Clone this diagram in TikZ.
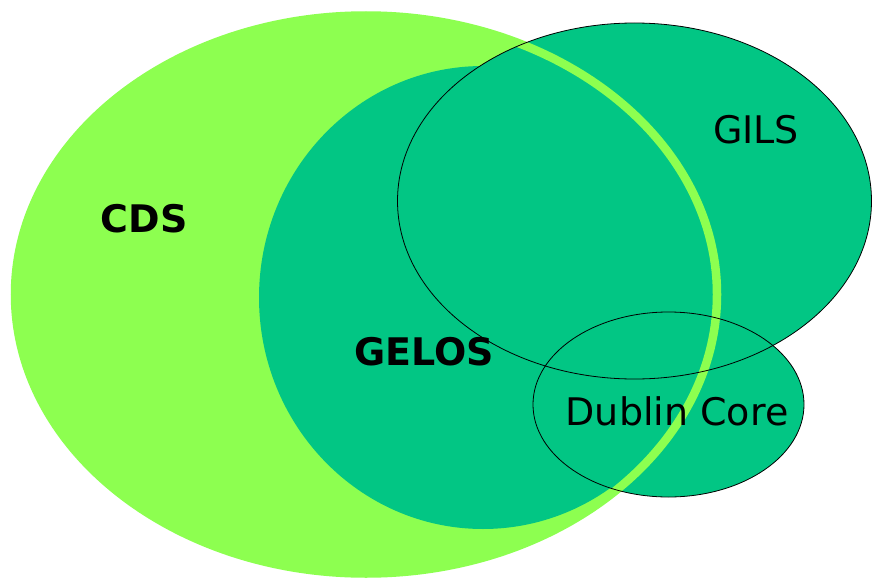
\documentclass[tikz,border=0pt]{standalone}
\usepackage{fontspec}
\setmainfont{DejaVu Sans}
\definecolor{cdsgreen}{RGB}{141,255,80}
\definecolor{setgreen}{RGB}{2,198,132}
\begin{document}
\begin{tikzpicture}[x=1pt,y=-1pt,
  setfill/.style={fill=setgreen},
  setline/.style={draw=black,line width=0.8pt},
  boldlabel/.style={font=\fontsize{38}{42}\selectfont\bfseries,inner sep=0pt},
  plainlabel/.style={font=\fontsize{38}{42}\selectfont,inner sep=0pt}]
\useasboundingbox[fill=white] (0,0) rectangle (873,578);
% CDS fill
\fill[cdsgreen] (366,294.5) ellipse [x radius=351, y radius=279];
% GELOS
\fill[setfill] (483,297.5) ellipse [x radius=224, y radius=231.5];
% GILS
\fill[setfill] (634.5,201) ellipse [x radius=237, y radius=178];
% Dublin Core
\fill[setfill] (668.5,404.5) ellipse [x radius=135.5, y radius=92.5];
% CDS border band
\draw[cdsgreen,line width=8.5pt] (366,294.5) ellipse [x radius=351, y radius=279];
% outlines
\draw[setline] (634.5,201) ellipse [x radius=237, y radius=178];
\draw[setline] (668.5,404.5) ellipse [x radius=135.5, y radius=92.5];
% labels
\node[boldlabel] (cds) at (144,219) {CDS};
\node[boldlabel] (gelos) at (424,352) {GELOS};
\node[plainlabel] (gils) at (756,130) {GILS};
\node[plainlabel] (dc) at (677,411) {Dublin Core};
\end{tikzpicture}
\end{document}
